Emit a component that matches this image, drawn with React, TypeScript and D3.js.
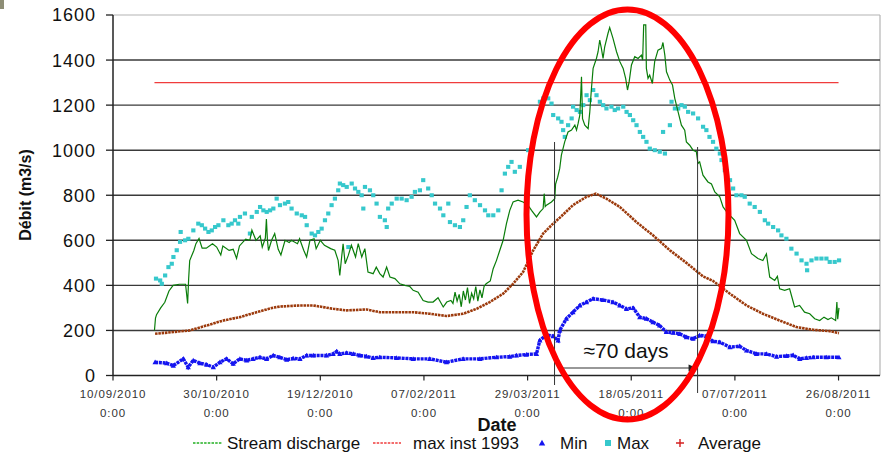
import React from "react";
import * as d3 from "d3";

// ---------- DATA (day offsets from 10/09/2010, value in m3/s) ----------
const startDate = new Date(2010, 8, 10);
const xTickDays = [0, 50, 100, 150, 200, 250, 300, 350];
const yTicks = [0, 200, 400, 600, 800, 1000, 1200, 1400, 1600];

const dischargeSeries: [number, number][] = [
  [20,200],[20.5,255],[21,270],[23,300],[25,325],[27,375],[29,400],[32,405],[35,405],[36,320],[36.5,430],[37,510],
  [39,555],[40,585],[41.5,608],[43,565],[45,565],[48,585],[50,570],[52,535],[53,575],[56,555],[58,560],[59.6,520],
  [61,575],[64,605],[66,600],[67,645],[69,600],[71,620],[72,570],[73.5,610],[74,695],[74.5,600],[75,555],[76.5,600],
  [78,630],[79.7,560],[81,535],[83,600],[85,590],[86,600],[89,585],[90,607],[92,556],[93.4,526],[95,600],[97,607],
  [98,563],[100,600],[102,578],[105,563],[107,556],[108.6,511],[109.4,444],[110.3,526],[111,585],[112,496],[113.5,533],
  [115,578],[117,526],[118.3,585],[120,526],[121.5,563],[123,459],[125.5,452],[127,481],[128.7,452],[130.3,437],
  [132,481],[133.6,437],[136,430],[138.4,407],[140.8,400],[143.2,395],[144.8,378],[147.2,370],[149.6,333],[152,326],
  [154.4,326],[156.8,345],[159.3,304],[161,326],[163,333],[164,320],[165,370],[166,330],[167,360],[168,305],[169,375],
  [170,335],[171,390],[172,320],[173,365],[174,340],[175,395],[176,330],[177,380],[178,345],[179,395],[180,407],
  [182,420],[183.4,474],[185,511],[186.6,556],[188.2,600],[189.8,674],[191.4,733],[193,770],[195.4,778],[197.8,770],
  [200.2,756],[201.9,733],[204.3,704],[206,726],[207.5,741],[208,807],[208.5,750],[209.1,756],[211.5,770],[213.1,785],
  [213.5,850],[214.5,880],[215.5,919],[216.3,978],[217.9,1037],[219.5,1081],[221.2,1089],[222.8,1111],[223.6,1089],
  [224.4,1120],[225.2,1156],[226,1326],[226.5,1140],[227.6,1111],[229.2,1096],[230,1170],[230.8,1274],[231.6,1363],
  [233.2,1407],[234,1437],[234.8,1489],[235.6,1452],[236.4,1407],[237.2,1459],[238.8,1519],[239.6,1544],[241.2,1496],
  [242.9,1437],[244.5,1393],[246.1,1363],[247.3,1319],[248.2,1267],[249,1304],[250.1,1378],[251.7,1415],[253.3,1407],
  [254.9,1422],[255.5,1400],[256,1556],[257,1556],[257.3,1363],[258.1,1319],[258.9,1333],[260.2,1296],[261.3,1393],
  [262.9,1444],[264.6,1452],[265.3,1478],[266.2,1422],[267,1348],[268.6,1311],[269.9,1289],[271,1230],[272.6,1170],
  [274.2,1111],[275.8,1089],[276.6,1037],[278.2,1022],[279.8,1000],[281.4,993],[282.2,941],[283,948],[284.6,889],
  [287,859],[288.7,850],[290.3,815],[292.7,793],[294.3,748],[296.7,719],[299.9,689],[302.3,630],[305.6,600],[308,541],
  [311.1,519],[313.5,510],[315.2,540],[316.8,437],[319.2,422],[320.5,440],[321.6,385],[324,378],[326.4,385],[328.8,304],
  [331.2,311],[333.6,281],[336.1,274],[338.5,252],[340.9,244],[343,259],[344.9,248],[346.5,256],[348.6,244],[349.2,326],
  [349.6,250],[350.2,300]
];

const maxSeries: [number, number][] = [
  [20.7,430],[22.7,422],[23.5,407],[25.1,444],[26.7,481],[28.3,496],[29.1,526],[30.7,556],[32.3,593],[32.6,637],[34.7,600],
  [36.3,607],[38.7,644],[41.1,674],[42.8,667],[44.4,652],[46,637],[47.6,644],[49.2,659],[50.8,667],[53.2,689],[55.6,667],
  [57.2,674],[58.8,689],[60.4,674],[61.2,704],[63.6,719],[66,630],[66.9,704],[69.3,726],[70.9,748],[72.5,733],[74.1,726],
  [75.7,733],[77.3,741],[78.9,785],[80.5,756],[82.9,763],[84.5,770],[86.1,741],[88.6,719],[91,711],[92.6,704],[93.4,667],
  [95.8,630],[97.4,622],[99,637],[100.6,652],[102.2,689],[103.8,719],[105.4,756],[107,785],[108.6,822],[109.4,852],
  [111,845],[112.7,837],[113.5,570],[115.1,852],[116.7,830],[118.3,815],[119.9,800],[120.7,741],[121.5,837],[123.9,822],
  [125.5,800],[127.1,763],[128.7,704],[131.1,689],[132,659],[132.7,741],[134.4,763],[136.8,785],[139.2,785],[141.6,778],
  [144,793],[145.6,815],[148,822],[149.6,867],[152,830],[153.7,800],[155.3,763],[157.7,741],[159.3,711],[161.7,763],
  [162.5,681],[164.9,667],[167.3,659],[168.9,689],[170.5,748],[172.1,800],[174.5,778],[177,756],[179.4,733],[181,711],
  [183.4,711],[185.8,733],[187.4,822],[189,896],[190.6,926],[192.2,948],[193.8,904],[196.2,926],[200.2,1000],[202.7,1052],
  [204.3,1104],[205.9,1215],[207.5,1230],[209.9,1230],[211.5,1207],[212.3,1156],[214.7,1141],[216.3,1126],[217.1,1089],
  [217.9,1059],[219.5,1111],[221.2,1141],[221.9,1193],[223.6,1178],[225.2,1170],[226.8,1200],[228.4,1244],[230,1222],
  [231.6,1267],[233.2,1244],[234.8,1215],[236.4,1200],[238,1185],[240.4,1193],[242,1178],[243.6,1185],[246.1,1193],
  [247.7,1170],[249.3,1156],[250.9,1133],[252.5,1111],[254.1,1081],[255.7,1059],[257.3,1037],[258.9,1007],[261.3,1000],
  [263.7,993],[265.3,1081],[266.2,985],[268.6,1111],[269.4,1215],[271,1185],[272.6,1185],[274.2,1200],[275.8,1193],
  [277.4,1170],[279.8,1163],[282.2,1141],[284.6,1104],[286.2,1089],[287.7,1059],[289.4,1037],[291,1007],[292.7,985],
  [293.5,956],[295.1,911],[297.6,867],[299.1,830],[300.7,800],[303.1,800],[304.7,793],[307.1,763],[309.5,748],[312,726],
  [314.4,689],[316,674],[318.4,659],[320.8,644],[322.4,622],[324.8,607],[327.2,563],[329.7,541],[332.1,511],[334.5,496],
  [334.8,467],[336.9,511],[339.3,519],[341.7,519],[344.1,519],[345.7,504],[348.1,504],[350.2,511]
];

const minSeries: [number, number][] = [
  [20.3,59],[25.9,55],[29.1,44],[33.9,74],[36.3,37],[38.7,67],[41.9,55],[45.2,48],[48.4,37],[51.6,59],[54.8,74],[58,52],
  [61.2,74],[64.5,67],[67.6,74],[70.9,81],[74.1,74],[77.3,89],[80.5,81],[83.8,70],[86.9,76],[90.2,74],[93.4,89],[96.6,89],
  [103,89],[106.2,96],[107.9,107],[109.4,96],[112.7,100],[115.9,96],[119.1,89],[122.3,85],[125.5,78],[128.7,81],[136.8,78],
  [144.8,74],[152.8,74],[160.9,59],[168.9,74],[177,74],[185,81],[191.4,84],[194.6,89],[199.4,93],[204.3,96],[205.9,156],
  [209.1,180],[212.3,175],[214.7,156],[215.5,200],[218.7,252],[221.9,281],[225.2,311],[228.4,326],[231.6,341],[236.4,335],
  [241.2,326],[244.5,311],[247.7,296],[250.9,300],[254.1,259],[257.3,252],[260.5,237],[263.7,222],[266.9,193],[270.2,190],
  [273.4,185],[276.6,170],[279.8,163],[283,178],[286.2,175],[289.4,152],[292.7,148],[297.6,126],[302.3,130],[305.6,111],
  [310.4,96],[315.2,96],[320.1,84],[324.9,87],[328.1,90],[331.3,74],[334.5,78],[337.8,81],[344.1,81],[350.2,81]
];

const averageSeries: [number, number][] = [
  [20.3,185],[29,193],[37,200],[45.2,222],[53.2,244],[61.2,259],[69.3,281],[77.3,301],[80.5,306],[90.2,311],[96.6,311],
  [106.2,296],[112.7,289],[122.3,293],[128.7,281],[144.8,281],[152.8,274],[160.9,264],[168.9,274],[175.4,296],[181.8,326],
  [188.2,363],[193,407],[197.8,459],[202.7,555],[207.5,630],[212.3,674],[215.5,700],[221.9,756],[228.4,793],[232.9,807],
  [238,785],[244.5,748],[252.5,681],[260.5,622],[268.6,556],[276.6,500],[284.6,440],[289.4,420],[297.6,363],[305.6,311],
  [313.5,274],[321.6,244],[329.7,215],[337.6,203],[345.7,197],[350.2,188]
];

const maxInst1993Days = [20, 350];
const maxInst1993Value = 1300;

const annotationStartDay = 213;
const annotationEndDay = 282;
const annotationLabel = "≈70 days";

const legendItems = ["Stream discharge", "max inst 1993", "Min", "Max", "Average"];

// ---------- CHART ----------
const FONT = "'Liberation Sans', Arial, sans-serif";
const dayToDate = (d: number) => new Date(startDate.getTime() + d * 86400000);

export default function App() {
  const W = 883, H = 453;
  const x = d3.scaleTime().domain([startDate, dayToDate(370)]).range([113, 880]);
  const y = d3.scaleLinear().domain([0, 1600]).range([375.5, 15]);
  const fmt = d3.timeFormat("%d/%m/%Y");
  const line = d3.line<[number, number]>().x(d => x(dayToDate(d[0]))).y(d => y(d[1]));
  const left = 113, right = 880, bottom = y(0), top = y(1600);

  const tri = (cx: number, cy: number, s: number) =>
    `M${cx},${cy - s} L${cx + s},${cy + s * 0.8} L${cx - s},${cy + s * 0.8} Z`;

  const xa = x(dayToDate(annotationStartDay));
  const xb = x(dayToDate(annotationEndDay));

  return (
    <svg width={W} height={H} style={{ position: "absolute", left: 0, top: 0, background: "#fff" }} fontFamily={FONT}>
      <rect x={0} y={0} width={4} height={9} fill="#8e8e76" />
      {/* plot border */}
      <line x1={left} x2={right} y1={top} y2={top} stroke="#b4b4b4" strokeWidth={1.2} />
      <line x1={right} x2={right} y1={top} y2={bottom} stroke="#b4b4b4" strokeWidth={1.2} />
      {/* gridlines */}
      {yTicks.filter(t => t > 0 && t < 1600).map(t => (
        <line key={t} x1={left} x2={right} y1={y(t)} y2={y(t)} stroke="#3a3a3a" strokeWidth={1.4} />
      ))}
      {/* y axis */}
      <line x1={left} x2={left} y1={top} y2={bottom} stroke="#222" strokeWidth={1.5} />
      {yTicks.map(t => (
        <g key={t}>
          <line x1={left - 7} x2={left} y1={y(t)} y2={y(t)} stroke="#222" strokeWidth={1.3} />
          <text x={96} y={y(t)} dy="0.36em" textAnchor="end" fontSize={18} letterSpacing={1} fill="#111">{t}</text>
        </g>
      ))}
      {/* x axis */}
      <line x1={left} x2={right} y1={bottom} y2={bottom} stroke="#222" strokeWidth={1.5} />
      {xTickDays.map(d => {
        const xx = x(dayToDate(d));
        return (
          <g key={d}>
            <line x1={xx} x2={xx} y1={bottom} y2={bottom + 5} stroke="#222" strokeWidth={1.2} />
            <text x={xx} y={398} textAnchor="middle" fontSize={11.5} letterSpacing={0.9} fill="#333">{fmt(dayToDate(d))}</text>
            <text x={xx} y={417} textAnchor="middle" fontSize={11.5} letterSpacing={0.9} fill="#333">0:00</text>
          </g>
        );
      })}
      <text x={497} y={431} textAnchor="middle" fontSize={18} fontWeight="bold" fill="#111">Date</text>
      <text transform={`translate(31,195) rotate(-90)`} textAnchor="middle" fontSize={16} fontWeight="bold" fill="#111">Débit (m3/s)</text>

      {/* series */}
      <line x1={x(dayToDate(maxInst1993Days[0]))} x2={x(dayToDate(maxInst1993Days[1]))} y1={y(maxInst1993Value)} y2={y(maxInst1993Value)} stroke="#f03c3c" strokeWidth={1.3} />
      <path d={line(averageSeries) || ""} fill="none" stroke="#9c3a0c" strokeWidth={2.6} strokeDasharray="2.5 0.8" />
      <path d={line(minSeries) || ""} fill="none" stroke="#1414f0" strokeWidth={3.4} strokeDasharray="3 0.8" />
      {minSeries.map((d, i) => (
        <path key={i} d={tri(x(dayToDate(d[0])), y(d[1]), 2.6)} fill="#1414f0" />
      ))}
      {maxSeries.map((d, i) => (
        <rect key={i} x={x(dayToDate(d[0])) - 2} y={y(d[1]) - 2} width={4.2} height={4} fill="#36c8cc" />
      ))}
      <path d={line(dischargeSeries) || ""} fill="none" stroke="#0a7d0a" strokeWidth={1.2} />

      {/* annotation */}
      <line x1={xa} x2={xa} y1={142} y2={385} stroke="#333" strokeWidth={1} />
      <line x1={xb} x2={xb} y1={147} y2={393} stroke="#333" strokeWidth={1} />
      <line x1={xa + 7} x2={xb - 6} y1={368} y2={368} stroke="#333" strokeWidth={1.2} />
      <path d={`M${xb - 1},368 L${xb - 9},364.5 L${xb - 9},371.5 Z`} fill="#222" />
      <text x={(xa + xb) / 2} y={358} textAnchor="middle" fontSize={21} fill="#111">{annotationLabel}</text>
      <ellipse cx={627.5} cy={214.5} rx={101} ry={205} fill="none" stroke="#ff0000" strokeWidth={6} />

      {/* legend */}
      <line x1={193} x2={222} y1={443} y2={443} stroke="#22b022" strokeWidth={1.3} strokeDasharray="2.5 1.2" />
      <text x={227} y={449} fontSize={17} fill="#111">{legendItems[0]}</text>
      <line x1={373} x2={401} y1={443} y2={443} stroke="#f03c3c" strokeWidth={1.3} strokeDasharray="2.5 1.2" />
      <text x={413} y={449} fontSize={17} fill="#111">{legendItems[1]}</text>
      <path d={tri(542, 443, 3.2)} fill="#1414f0" />
      <text x={560} y={449} fontSize={17} fill="#111">{legendItems[2]}</text>
      <rect x={605} y={440} width={6} height={6} fill="#36c8cc" />
      <text x={617} y={449} fontSize={17} fill="#111">{legendItems[3]}</text>
      <path d="M676,443 L684,443 M680,439 L680,447" stroke="#d42020" strokeWidth={1.4} />
      <text x={698} y={449} fontSize={17} fill="#111">{legendItems[4]}</text>
    </svg>
  );
}
